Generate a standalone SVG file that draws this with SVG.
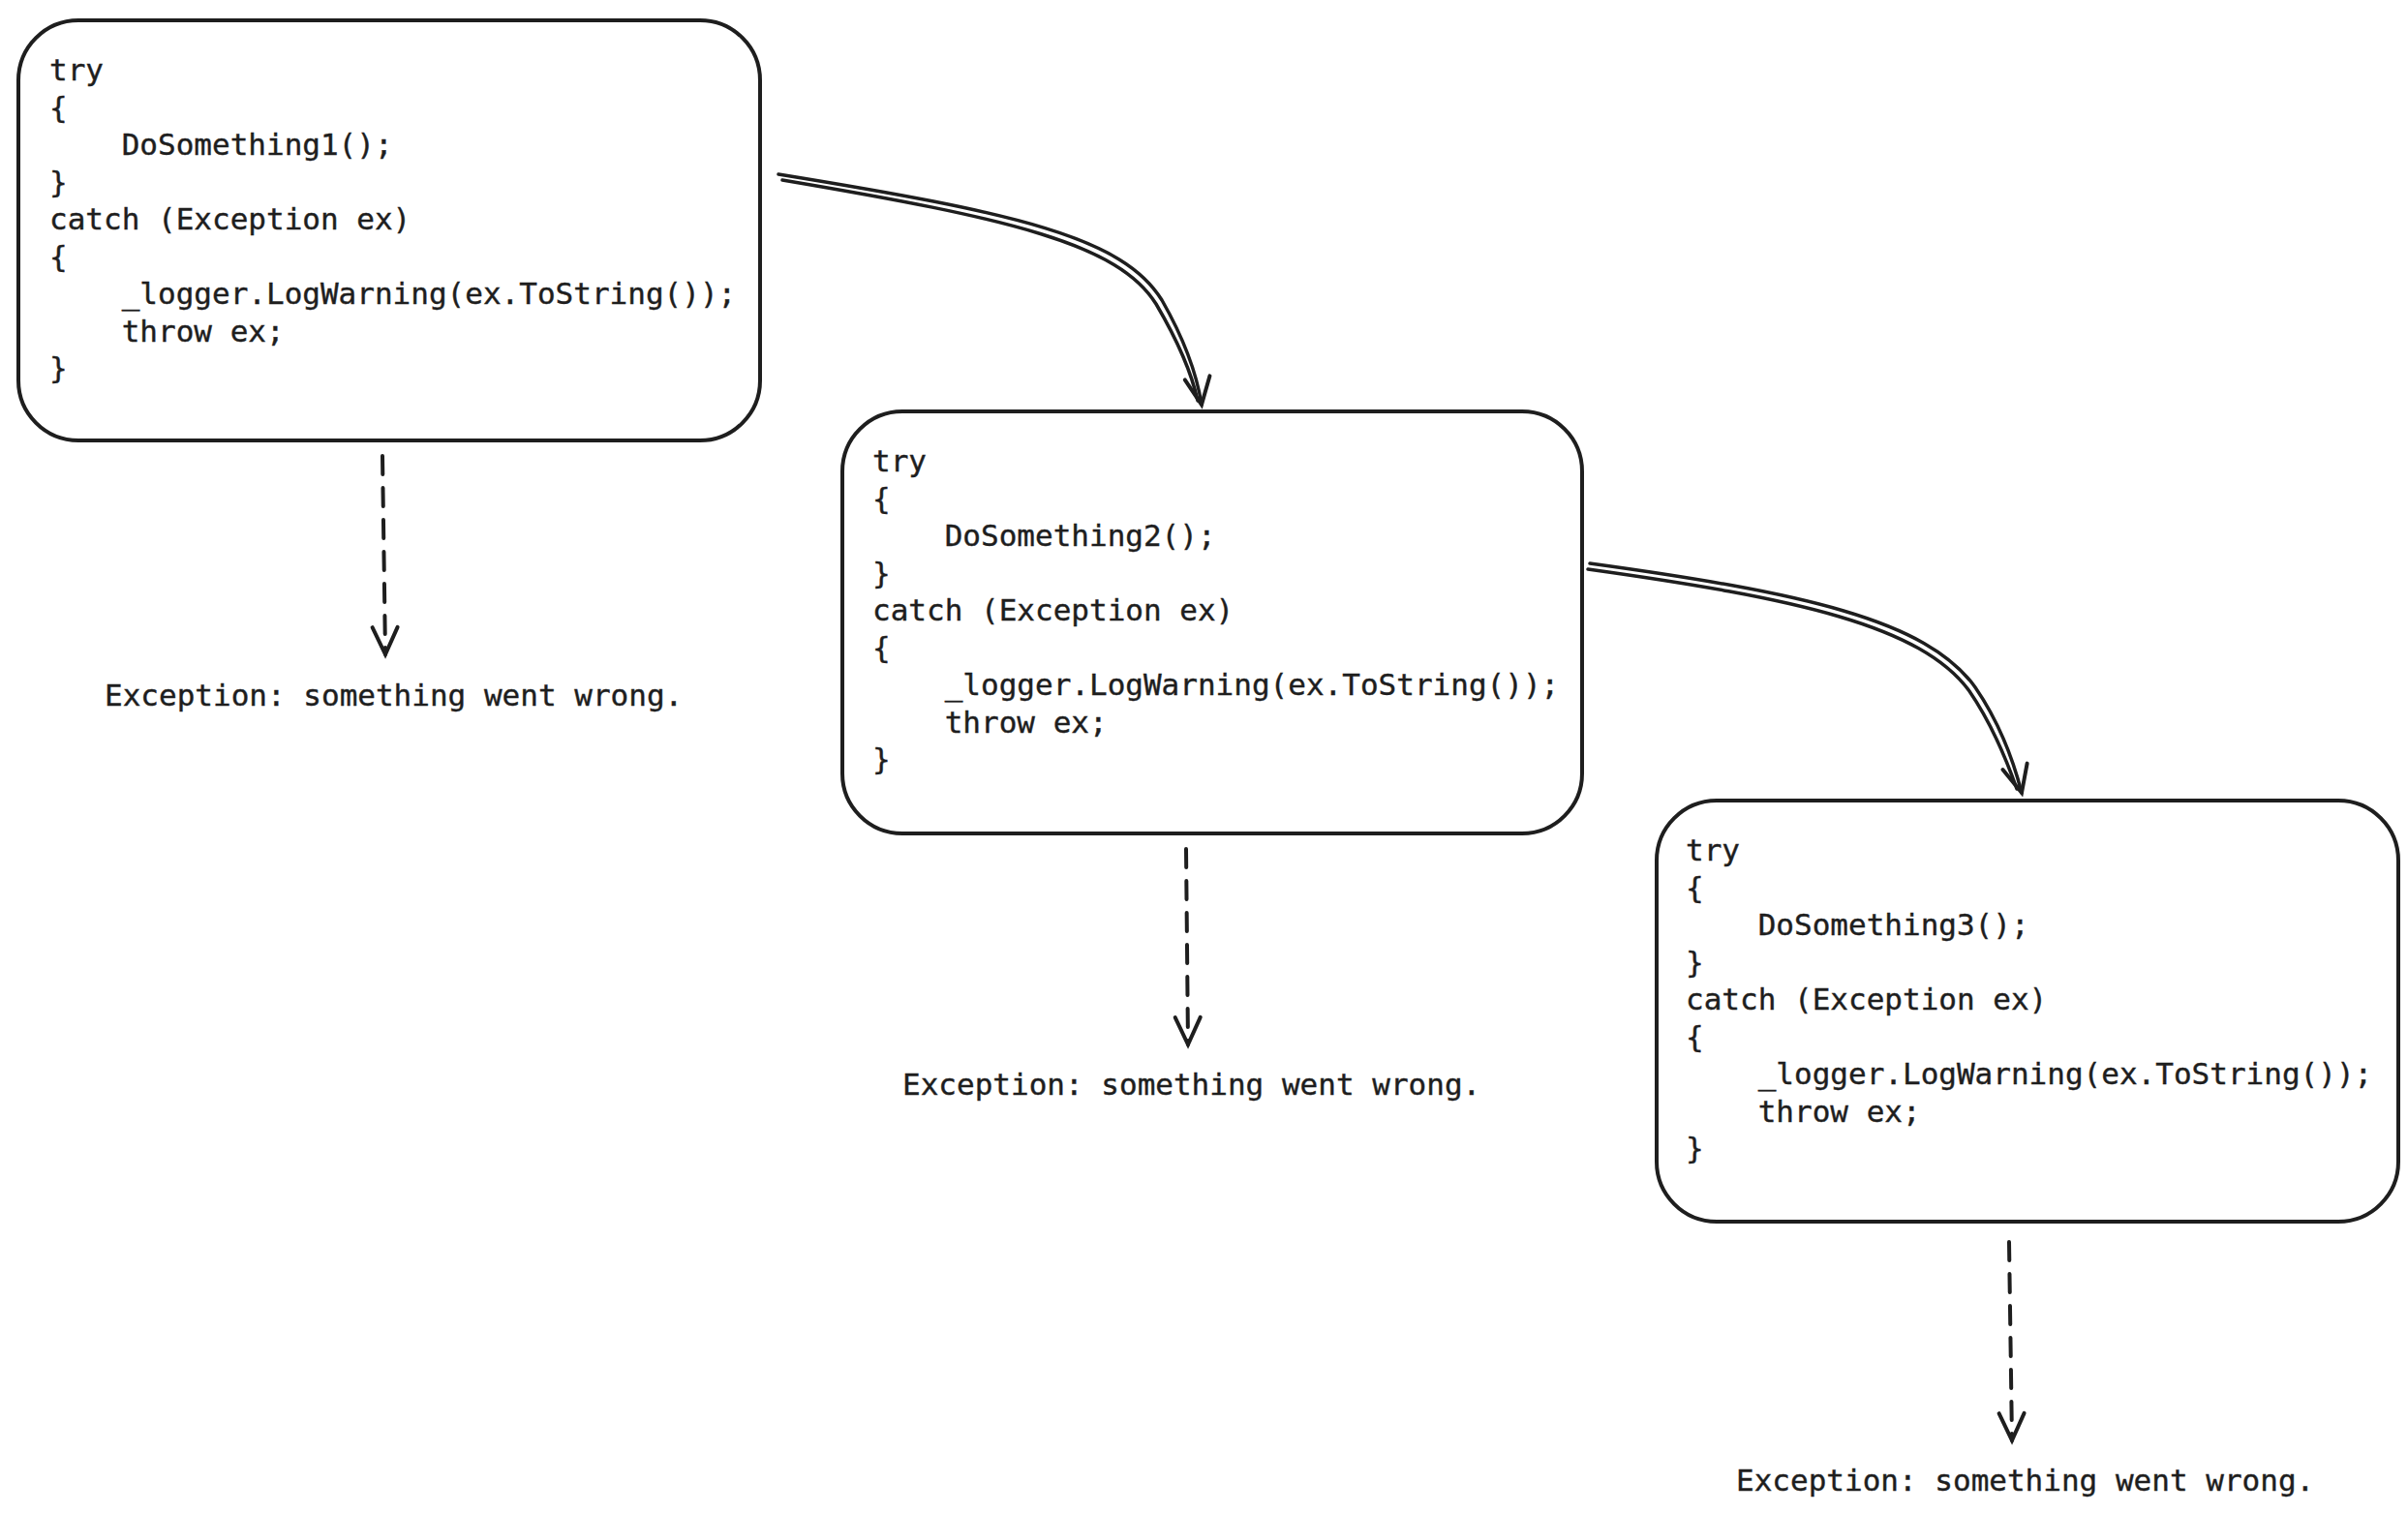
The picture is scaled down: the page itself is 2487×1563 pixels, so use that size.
<svg xmlns="http://www.w3.org/2000/svg" width="2487" height="1563" viewBox="0 0 2487 1563">
<style>
.box{fill:#fff;stroke:#1e1e1e;stroke-width:4}
.code{font-family:"DejaVu Sans Mono","Liberation Mono",monospace;font-size:31px;fill:#1e1e1e;stroke:#1e1e1e;stroke-width:0.4}
.lbl{font-family:"DejaVu Sans Mono","Liberation Mono",monospace;font-size:31px;fill:#1e1e1e;stroke:#1e1e1e;stroke-width:0.4}
.c{fill:none;stroke:#1e1e1e;stroke-width:3.5;stroke-linecap:round}
.d{fill:none;stroke:#1e1e1e;stroke-width:4;stroke-dasharray:19 14;stroke-linecap:round}
</style>
<defs>
<marker id="ah" markerWidth="50" markerHeight="50" refX="34" refY="25" orient="auto" markerUnits="userSpaceOnUse">
<path d="M6,12 L34,25 L6,38" fill="none" stroke="#1e1e1e" stroke-width="4" stroke-linecap="round"/>
</marker>
</defs>
<rect width="2487" height="1563" fill="#fff"/>
<g id="node1">
<rect class="box" x="19" y="21" width="766" height="434" rx="62"/>
<text class="code" xml:space="preserve"><tspan x="51" y="83">try</tspan><tspan x="51" y="121.5">{</tspan><tspan x="51" y="160">    DoSomething1();</tspan><tspan x="51" y="198.5">}</tspan><tspan x="51" y="237">catch (Exception ex)</tspan><tspan x="51" y="275.5">{</tspan><tspan x="51" y="314">    _logger.LogWarning(ex.ToString());</tspan><tspan x="51" y="352.5">    throw ex;</tspan><tspan x="51" y="391">}</tspan></text>
</g>
<g id="node2">
<rect class="box" x="870" y="425" width="764" height="436" rx="62"/>
<text class="code" xml:space="preserve"><tspan x="901" y="487">try</tspan><tspan x="901" y="525.5">{</tspan><tspan x="901" y="564">    DoSomething2();</tspan><tspan x="901" y="602.5">}</tspan><tspan x="901" y="641">catch (Exception ex)</tspan><tspan x="901" y="679.5">{</tspan><tspan x="901" y="718">    _logger.LogWarning(ex.ToString());</tspan><tspan x="901" y="756.5">    throw ex;</tspan><tspan x="901" y="795">}</tspan></text>
</g>
<g id="node3">
<rect class="box" x="1711" y="827" width="766" height="435" rx="62"/>
<text class="code" xml:space="preserve"><tspan x="1741" y="889">try</tspan><tspan x="1741" y="927.5">{</tspan><tspan x="1741" y="966">    DoSomething3();</tspan><tspan x="1741" y="1004.5">}</tspan><tspan x="1741" y="1043">catch (Exception ex)</tspan><tspan x="1741" y="1081.5">{</tspan><tspan x="1741" y="1120">    _logger.LogWarning(ex.ToString());</tspan><tspan x="1741" y="1158.5">    throw ex;</tspan><tspan x="1741" y="1197">}</tspan></text>
</g>
<g id="label1"><text class="lbl" x="108" y="729">Exception: something went wrong.</text></g>
<g id="label2"><text class="lbl" x="932" y="1131">Exception: something went wrong.</text></g>
<g id="label3"><text class="lbl" x="1793" y="1540">Exception: something went wrong.</text></g>
<g id="connectors">
<path class="c" d="M804,180 C1050,220 1160,245 1200,310 C1220,345 1235,380 1241,418" marker-end="url(#ah)"/>
<path class="c" d="M808,186 C1045,226 1155,252 1194,314 C1214,348 1230,382 1237,414"/>
<path class="c" d="M1642,582 C1860,612 1990,640 2040,710 C2062,742 2078,780 2088,819" marker-end="url(#ah)"/>
<path class="c" d="M1640,588 C1855,618 1984,646 2034,714 C2056,746 2072,784 2083,815"/>
<path class="d" d="M395,471 L398,676" marker-end="url(#ah)"/>
<path class="d" d="M1225,877 L1227,1079" marker-end="url(#ah)"/>
<path class="d" d="M2075,1283 L2078,1488" marker-end="url(#ah)"/>
</g>
</svg>
